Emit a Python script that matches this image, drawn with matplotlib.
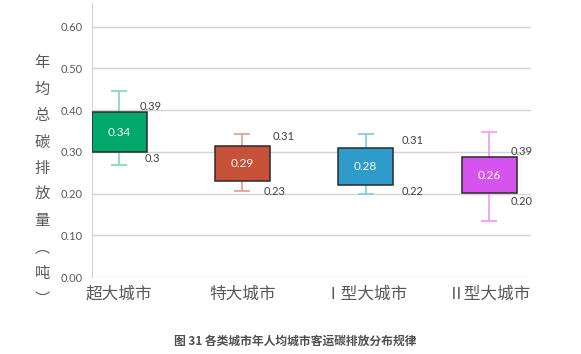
import matplotlib
matplotlib.use("Agg")
import matplotlib.pyplot as plt
import numpy as np

categories = ["超大城市", "特大城市", "Ⅰ型大城市", "Ⅱ型大城市"]
box_low = [0.300, 0.230, 0.220, 0.201]
box_high = [0.395, 0.315, 0.310, 0.287]
whisker_low = [0.269, 0.206, 0.198, 0.134]
whisker_high = [0.445, 0.342, 0.343, 0.347]
mean_labels = ["0.34", "0.29", "0.28", "0.26"]
top_labels = ["0.39", "0.31", "0.31", "0.39"]
bottom_labels = ["0.3", "0.23", "0.22", "0.20"]
yticks = [0.0, 0.1, 0.2, 0.3, 0.4, 0.5, 0.6]
ylabel_chars = ["年", "均", "总", "碳", "排", "放", "量", "︵", "吨", "︶"]
title = "图 31 各类城市年人均城市客运碳排放分布规律"

box_colors = ["#00A86B", "#C8513A", "#2E9BCB", "#D654EE"]
whisk_colors = ["#8ED9B6", "#E3A597", "#86CBEA", "#EEA0F6"]
# label offsets in pixels (dx from box right edge, dy from box edge)
top_off = [(-7, 6), (3, 9), (8, 7), (-6, 6)]
bot_off = [(-2, -7), (-6, -10), (8, -6), (-6, -8)]

plt.rcParams['font.family'] = ['Lato', 'Noto Sans CJK SC', 'DejaVu Sans']

fig = plt.figure(figsize=(5.81, 3.54), dpi=100)
ax = fig.add_axes([92/581, (354-277)/354, (531-92)/581, (277-3)/354])

x = np.arange(len(categories))
w = 0.446
cap = 0.13
bl = np.array(box_low); bh = np.array(box_high)

for i in range(len(categories)):
    ax.vlines(x[i], whisker_low[i], bl[i], color=whisk_colors[i], lw=1.3, zorder=2)
    ax.vlines(x[i], bh[i], whisker_high[i], color=whisk_colors[i], lw=1.3, zorder=2)
    ax.hlines([whisker_low[i], whisker_high[i]], x[i]-cap/2, x[i]+cap/2,
              color=whisk_colors[i], lw=1.3, zorder=2)
ax.bar(x, bh - bl, bottom=bl, width=w, color=box_colors, edgecolor="#2a2a2a",
       linewidth=1.1, zorder=3)

for i in range(len(categories)):
    ax.text(x[i], (bl[i]+bh[i])/2, mean_labels[i], color="white", fontsize=8.5,
            ha="center", va="center", zorder=4)
    ax.annotate(top_labels[i], (x[i]+w/2, bh[i]), xytext=top_off[i],
                textcoords="offset pixels", ha="left", va="center",
                fontsize=8, color="#404040", zorder=4)
    ax.annotate(bottom_labels[i], (x[i]+w/2, bl[i]), xytext=bot_off[i],
                textcoords="offset pixels", ha="left", va="center",
                fontsize=8, color="#404040", zorder=4)

ax.set_xlim(-0.219, 3.34)
ax.set_ylim(0, 0.657)
ax.set_yticks(yticks)
ax.set_yticklabels([f"{v:.2f}" for v in yticks])
ax.set_xticks(x)
ax.set_xticklabels(categories, fontsize=12, color="#595959")
ax.tick_params(axis="y", length=0, pad=7, labelsize=8, labelcolor="#595959")
ax.tick_params(axis="x", length=0, pad=6)
ax.grid(axis="y", color="#D4D4D4", lw=1, zorder=0)
ax.set_axisbelow(True)
for s in ["top", "right", "bottom"]:
    ax.spines[s].set_visible(False)
ax.spines["left"].set_color("#D4D4D4")

y0 = 63
for j, ch in enumerate(ylabel_chars):
    fig.text(42/581, 1 - (y0 + j*26.3)/354, ch, ha="center", va="center",
             fontsize=11, color="#595959", family=['Noto Sans CJK SC', 'DejaVu Sans'])

fig.text(295/581, 1 - 341/354, title, ha="center", va="center", fontsize=8.5,
         fontweight="bold", color="#505050", family=['Noto Sans CJK SC', 'DejaVu Sans'])

fig.savefig("out.png", dpi=100)
